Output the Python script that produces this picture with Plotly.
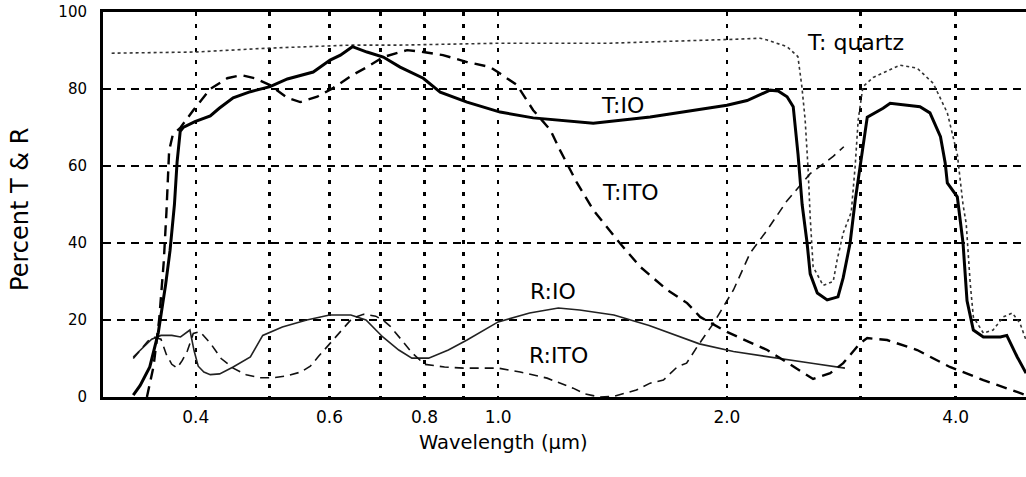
import numpy as np
import plotly.graph_objects as go

# ---------------- data (wavelength in micrometres, percent) ----------------
T_QUARTZ_WL = [0.310, 0.399, 0.497, 0.639, 0.743, 1.006, 1.404, 1.669, 2.038, 2.212,
               2.26, 2.40, 2.48, 2.51, 2.535, 2.558, 2.574, 2.597, 2.677, 2.76,
               2.793, 2.845, 2.915, 2.95, 2.977, 3.02, 3.115, 3.38, 3.56, 3.736,
               3.90, 4.02, 4.09, 4.13, 4.18, 4.22, 4.35, 4.48, 4.62, 4.75,
               4.86, 4.95]
T_QUARTZ = [89.3, 89.6, 90.6, 91.4, 91.4, 91.9, 91.9, 92.3, 92.9, 93.2,
            92.7, 91, 88.4, 80.6, 72, 59, 46.8, 33.8, 29, 30,
            35.6, 42.6, 48, 60, 72, 80.6, 83, 86.2, 85.4, 81.5,
            73.8, 63, 50, 45, 29.6, 20.8, 16.6, 17.4, 20.8, 21.8,
            19.2, 14.8]

T_IO_WL = [0.331, 0.338, 0.348, 0.357, 0.365, 0.370, 0.375, 0.378, 0.3816, 0.385,
           0.399, 0.418, 0.4295, 0.448, 0.472, 0.501, 0.528, 0.571, 0.601, 0.620,
           0.643, 0.672, 0.706, 0.743, 0.797, 0.839, 0.910, 1.006, 1.112, 1.334,
           1.585, 2.0, 2.126, 2.28, 2.336, 2.40, 2.445, 2.481, 2.512, 2.55,
           2.574, 2.63, 2.71, 2.80, 2.845, 2.905, 2.95, 3.01, 3.06, 3.21,
           3.28, 3.59, 3.70, 3.82, 3.875, 3.90, 4.02, 4.09, 4.14, 4.22,
           4.35, 4.58, 4.67, 4.82, 4.95]
T_IO = [0.5, 3, 7.8, 16.6, 29, 38, 50, 61, 69, 70,
        71.5, 73, 75, 77.7, 79.3, 80.6, 82.6, 84.4, 87.5, 88.8,
        91, 89.6, 88.3, 85.7, 82.8, 79.2, 76.6, 74, 72.5, 71.1,
        72.7, 75.8, 77, 79.7, 79.5, 78, 75.4, 63, 50, 40,
        32, 27, 25.2, 26, 31, 40, 51, 63, 72.7, 75,
        76.3, 75.4, 73.8, 67.6, 60.8, 55.6, 52, 40, 25, 17.4,
        15.6, 15.6, 16, 10.4, 6.2]

T_ITO_WL = [0.345, 0.352, 0.358, 0.363, 0.366, 0.369, 0.373, 0.382, 0.397, 0.418,
            0.440, 0.459, 0.478, 0.501, 0.528, 0.549, 0.578, 0.607, 0.643, 0.672,
            0.706, 0.759, 0.797, 0.846, 0.910, 0.976, 1.006, 1.059, 1.112, 1.171,
            1.207, 1.27, 1.334, 1.434, 1.538, 1.669, 1.773, 1.844, 2.0, 2.26,
            2.597, 2.735, 2.845, 2.995, 3.06, 3.25, 3.56, 3.93, 4.35, 4.95]
T_ITO = [0, 8, 20, 35, 48, 64, 68, 70, 74.5, 80,
         82.8, 83.6, 82.8, 81, 77.7, 76.6, 78, 80.3, 83.6, 85.7,
         88.3, 90.1, 89.6, 88.8, 87, 85.7, 84, 81, 74.5, 69.4,
         64, 55.6, 48.6, 40.8, 33.8, 27.8, 24.4, 20.8, 16.9, 12.2,
         4.7, 6.2, 8.8, 14, 15.3, 14.8, 12.2, 7.8, 4.4, 0.5]

R_IO_WL = [0.331, 0.340, 0.350, 0.360, 0.372, 0.382, 0.393, 0.398, 0.403, 0.410,
           0.418, 0.430, 0.448, 0.472, 0.490, 0.520, 0.560, 0.600, 0.640, 0.670,
           0.705, 0.740, 0.770, 0.810, 0.860, 0.910, 1.0, 1.10, 1.20, 1.28,
           1.42, 1.58, 1.75, 1.84, 2.04, 2.37, 2.6, 2.86]
R_IO = [10.4, 12.5, 15, 16, 16, 15.6, 17.4, 12, 8, 6.5,
        5.8, 6, 7.8, 10.4, 16, 18.2, 20, 21.3, 21.3, 20,
        15.6, 12.2, 10.1, 10.1, 12.2, 14.8, 19.5, 21.8, 23.1, 22.6,
        21.3, 18.6, 15.3, 13.8, 11.8, 9.8, 8.7, 7.5]

R_ITO_WL = [0.331, 0.338, 0.346, 0.353, 0.360, 0.366, 0.372, 0.378, 0.384, 0.390,
            0.397, 0.405, 0.418, 0.432, 0.448, 0.466, 0.486, 0.505, 0.528, 0.550,
            0.566, 0.580, 0.595, 0.610, 0.625, 0.643, 0.665, 0.690, 0.705, 0.720,
            0.745, 0.770, 0.800, 0.850, 0.900, 0.950, 1.0, 1.069, 1.16, 1.255,
            1.30, 1.36, 1.42, 1.52, 1.585, 1.65, 1.72, 1.77, 1.827, 1.918,
            2.04, 2.146, 2.26, 2.40, 2.574, 2.76, 2.85]
R_ITO = [10, 12, 14.5, 15.5, 15, 11, 8.5, 7.5, 9.5, 12,
         16.5, 17, 14, 10, 7.5, 5.8, 5, 5, 5.5, 6.5,
         8, 10.5, 13, 15.5, 18, 20.5, 21.5, 21, 20, 18.5,
         15, 11.5, 8.5, 7.8, 7.5, 7.5, 7.5, 6.5, 4.9, 2.3,
         0.8, 0, 0.2, 1.8, 3.6, 4.4, 7.8, 8.8, 13, 19,
         27.8, 37.4, 43.4, 51, 58, 62.5, 65]

X_GRID = [0.4, 0.5, 0.6, 0.7, 0.8, 0.9, 1.0, 2.0, 3.0, 4.0]
X_TICK_TEXT = ["0.4", "", "0.6", "", "0.8", "", "1.0", "2.0", "", "4.0"]
Y_TICKS = [0, 20, 40, 60, 80, 100]

# curve labels: (text, wavelength, percent)
LABELS = [("T: quartz", 2.95, 92.0),
          ("T:IO", 1.456, 75.8),
          ("T:ITO", 1.492, 53.0),
          ("R:IO", 1.181, 27.3),
          ("R:ITO", 1.199, 10.9)]

FONT = "DejaVu Sans"

fig = go.Figure()
fig.add_trace(go.Scatter(x=T_QUARTZ_WL, y=T_QUARTZ, mode="lines", name="T: quartz",
                         line=dict(color="#333", width=1.6, dash="dot")))
fig.add_trace(go.Scatter(x=R_IO_WL, y=R_IO, mode="lines", name="R:IO",
                         line=dict(color="#222", width=1.6)))
fig.add_trace(go.Scatter(x=R_ITO_WL, y=R_ITO, mode="lines", name="R:ITO",
                         line=dict(color="#111", width=1.6, dash="9px,6px")))
fig.add_trace(go.Scatter(x=T_ITO_WL, y=T_ITO, mode="lines", name="T:ITO",
                         line=dict(color="black", width=2.4, dash="11px,7px")))
fig.add_trace(go.Scatter(x=T_IO_WL, y=T_IO, mode="lines", name="T:IO",
                         line=dict(color="black", width=3)))

for text, wl, pct in LABELS:
    fig.add_annotation(x=np.log10(wl), y=pct, xref="x", yref="y", text=text,
                       showarrow=False, font=dict(family=FONT, size=22, color="black"),
                       xanchor="center", yanchor="middle", bgcolor="rgba(0,0,0,0)")

# axis titles
fig.add_annotation(x=0.4334, y=-0.117, xref="paper", yref="paper",
                   text="Wavelength (\u03bcm)", showarrow=False,
                   font=dict(family=FONT, size=19.5, color="black"),
                   xanchor="center", yanchor="middle")
fig.add_annotation(x=-0.0899, y=0.486, xref="paper", yref="paper",
                   text="Percent T &amp; R", showarrow=False, textangle=-90,
                   font=dict(family=FONT, size=24, color="black"),
                   xanchor="center", yanchor="middle")

fig.update_xaxes(type="log", range=[np.log10(0.302), np.log10(4.95)],
                 tickvals=X_GRID, ticktext=X_TICK_TEXT,
                 showline=True, linecolor="black", linewidth=3, mirror=True,
                 ticks="", showgrid=True, gridcolor="black", gridwidth=2.5,
                 griddash="4px,8px", zeroline=False, ticklabelstandoff=3,
                 tickfont=dict(family=FONT, size=17, color="black"))
fig.update_yaxes(range=[0, 100], tickvals=Y_TICKS,
                 showline=True, linecolor="black", linewidth=3, mirror=False,
                 ticks="", showgrid=True, gridcolor="black", gridwidth=2.5,
                 griddash="8px,6px", zeroline=False, ticklabelstandoff=10,
                 tickfont=dict(family=FONT, size=15, color="black"))

fig.update_layout(width=1026, height=477,
                  margin=dict(l=103, r=0, t=12, b=80, autoexpand=False),
                  plot_bgcolor="white", paper_bgcolor="white", showlegend=False,
                  hovermode=False)

fig.write_html("out.html", config={"displayModeBar": False, "staticPlot": True},
               post_script="document.body.style.margin='0';document.body.style.overflow='hidden';")
